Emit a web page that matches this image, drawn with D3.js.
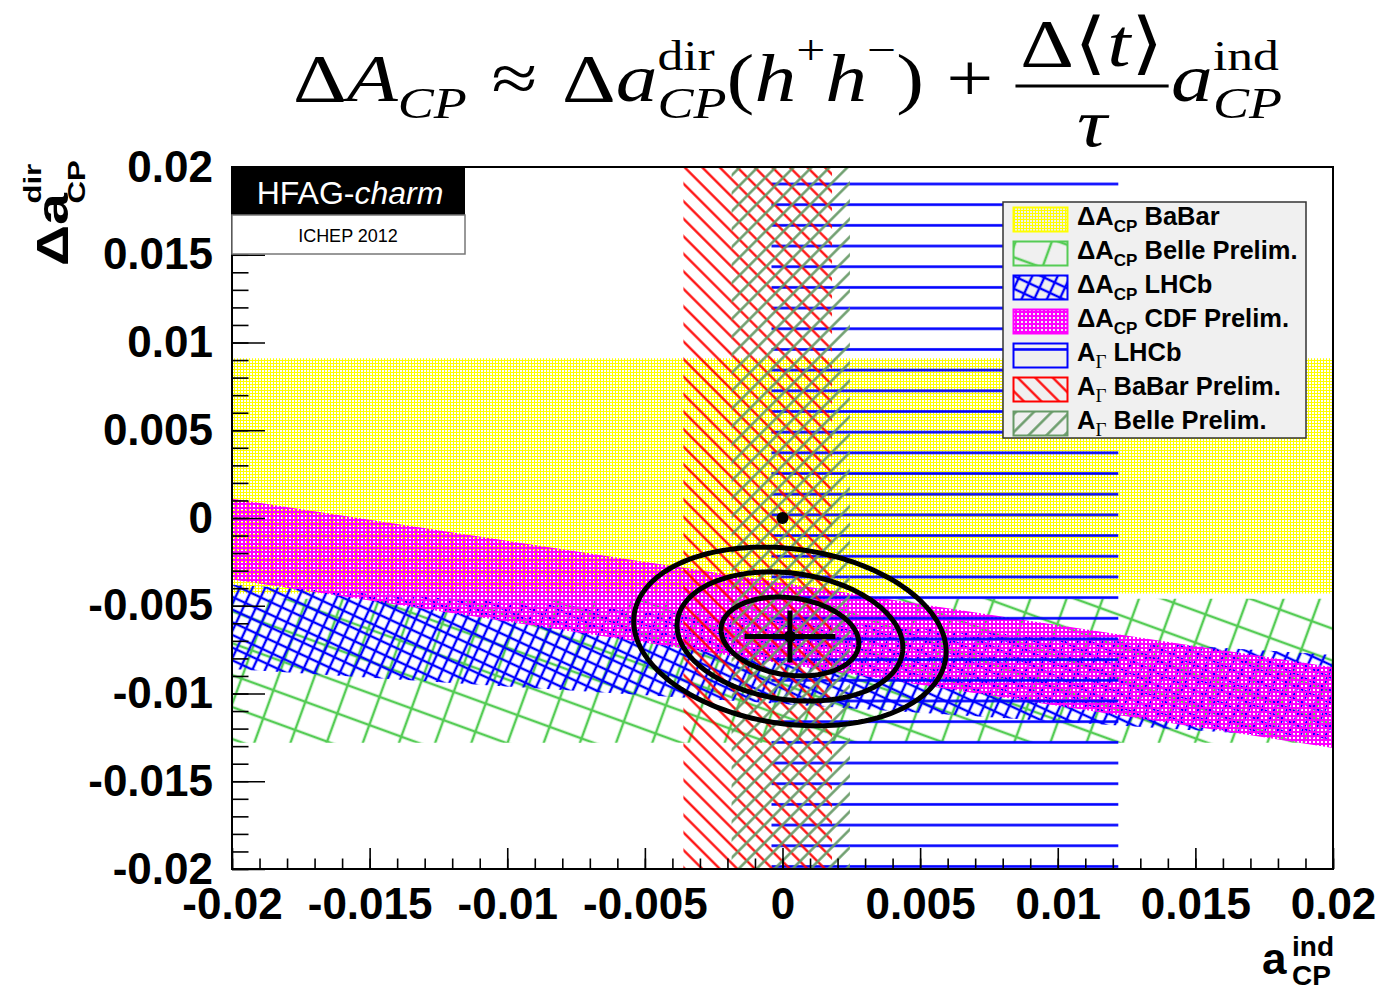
<!DOCTYPE html>
<html>
<head>
<meta charset="utf-8">
<script src="https://cdnjs.cloudflare.com/ajax/libs/d3/7.8.5/d3.min.js"></script>
<style>
  body { margin: 0; background: #fff; }
  svg { display: block; }
  text { font-family: "Liberation Sans", Arial, Helvetica, sans-serif; }
</style>
</head>
<body>
<svg id="chart" width="1392" height="990"></svg>
<script>
// Delta A_CP measurements: value, error and Delta<t>/tau of each experiment
var dacpNames = ["BaBar", "Belle Prelim.", "LHCb", "CDF Prelim."];
var dacpValues = [0.0024, -0.0087, -0.0082, -0.0060];
var dacpErrors = [0.0067, 0.0041, 0.0024, 0.0023];
var dacpTimeRatio = [0.0, 0.0, 0.10, 0.24];

// A_Gamma measurements, shown as a_ind = -A_Gamma
var agammaNames = ["LHCb", "BaBar Prelim.", "Belle Prelim."];
var aindValues = [0.0059, -0.0009, 0.0003];
var aindErrors = [0.0063, 0.0027, 0.00215];

// combined fit
var fitCenter = [0.00027, -0.00675];
var fitSigma = [0.00165, 0.00148];
var fitCorrelation = -0.17;
var contourLevels = [2.30, 6.18, 11.83];
var noCPV = [0, 0];

var xTickValues = [-0.02, -0.015, -0.01, -0.005, 0, 0.005, 0.01, 0.015, 0.02];
var xTickLabels = ["-0.02", "-0.015", "-0.01", "-0.005", "0", "0.005", "0.01", "0.015", "0.02"];
var yTickValues = [-0.02, -0.015, -0.01, -0.005, 0, 0.005, 0.01, 0.015, 0.02];
var yTickLabels = ["-0.02", "-0.015", "-0.01", "-0.005", "0", "0.005", "0.01", "0.015", "0.02"];
var minorTicks = d3.range(-20, 21).map(function(i) { return i / 1000; });

var svg = d3.select("#chart");
var margin = {left: 232, right: 1333, top: 167, bottom: 869};

var x = d3.scaleLinear().domain([-0.02, 0.02]).range([margin.left, margin.right]);
var y = d3.scaleLinear().domain([-0.02, 0.02]).range([margin.bottom, margin.top]);

var defs = svg.append("defs");

defs.append("clipPath").attr("id", "plotclip")
  .append("rect")
  .attr("x", margin.left).attr("y", margin.top)
  .attr("width", margin.right - margin.left).attr("height", margin.bottom - margin.top);

// fine dot fill (ROOT style 3001 look)
function dots(id, color, size, hole) {
  var p = defs.append("pattern").attr("id", id)
    .attr("patternUnits", "userSpaceOnUse")
    .attr("width", size).attr("height", size);
  p.append("path")
    .attr("d", "M0,0h" + size + "v" + size + "h-" + size + "z M1,1v" + hole + "h" + hole + "v-" + hole + "z")
    .attr("fill", color)
    .attr("fill-rule", "evenodd")
    .attr("shape-rendering", "crispEdges");
}

// line hatching, optionally crossed
function hatch(id, color, lw, h, w, angle, cross, offset) {
  var p = defs.append("pattern").attr("id", id)
    .attr("patternUnits", "userSpaceOnUse")
    .attr("width", w).attr("height", h)
    .attr("patternTransform", "translate(0," + (offset || 0) + ") rotate(" + angle + ")");
  p.append("line")
    .attr("x1", 0).attr("x2", w).attr("y1", h / 2).attr("y2", h / 2)
    .attr("stroke", color).attr("stroke-width", lw);
  if (cross) {
    p.append("line")
      .attr("x1", w / 2).attr("x2", w / 2).attr("y1", 0).attr("y2", h)
      .attr("stroke", color).attr("stroke-width", lw);
  }
}

dots("pYellow", "#ffff00", 3, 2);
dots("pMagenta", "#ff00ff", 4, 2);
hatch("pBelleD", "#55cc55", 2.5, 30, 34, 20, true);
hatch("pLHCbD", "#0000ff", 2.4, 11.5, 11.5, 25, true);
hatch("pLHCbG", "#0000ff", 2.6, 20.68, 20.68, 0, false, 184 - 10.34);
hatch("pBaBarG", "#ff0000", 2.2, 12.4, 12.4, 45, false);
hatch("pBelleG", "#669966", 2.4, 12.7, 12.7, -45, false);

var dacpFill = ["url(#pYellow)", "url(#pBelleD)", "url(#pLHCbD)", "url(#pMagenta)"];
var dacpColor = ["#ffff00", "#55cc55", "#0000ff", "#ff00ff"];
var agFill = ["url(#pLHCbG)", "url(#pBaBarG)", "url(#pBelleG)"];
var agColor = ["#0000ff", "#ff0000", "#669966"];

var plot = svg.append("g").attr("clip-path", "url(#plotclip)");

// Delta A_CP bands: Delta a_dir = Delta A_CP - (Delta<t>/tau) a_ind
var bandLine = d3.line().x(function(d) { return x(d[0]); }).y(function(d) { return y(d[1]); });
dacpNames.forEach(function(n, i) {
  var c = dacpValues[i], e = dacpErrors[i], k = dacpTimeRatio[i];
  var pts = [[-0.02, c + e + 0.02 * k], [0.02, c + e - 0.02 * k],
             [0.02, c - e - 0.02 * k], [-0.02, c - e + 0.02 * k]];
  plot.append("path")
    .attr("d", bandLine(pts) + "Z")
    .attr("fill", dacpFill[i]);
});

// A_Gamma bands (vertical)
agammaNames.forEach(function(n, i) {
  plot.append("rect")
    .attr("x", x(aindValues[i] - aindErrors[i]))
    .attr("width", x(aindValues[i] + aindErrors[i]) - x(aindValues[i] - aindErrors[i]))
    .attr("y", margin.top).attr("height", margin.bottom - margin.top)
    .attr("fill", agFill[i]);
});

// fit contours (delta chi2 = 2.30, 6.18, 11.83)
var rho = fitCorrelation;
var angles = d3.range(0, 360, 2).map(function(a) { return a * Math.PI / 180; });
contourLevels.forEach(function(level) {
  var k = Math.sqrt(level);
  var gen = d3.line().curve(d3.curveLinearClosed)
    .x(function(t) { return x(fitCenter[0] + k * fitSigma[0] * Math.cos(t)); })
    .y(function(t) { return y(fitCenter[1] + k * fitSigma[1] * (rho * Math.cos(t) + Math.sqrt(1 - rho * rho) * Math.sin(t))); });
  plot.append("path")
    .attr("d", gen(angles))
    .attr("fill", "none").attr("stroke", "#000").attr("stroke-width", 5);
});

// central value with 1 sigma errors
plot.append("line")
  .attr("x1", x(fitCenter[0] - fitSigma[0])).attr("x2", x(fitCenter[0] + fitSigma[0]))
  .attr("y1", y(fitCenter[1])).attr("y2", y(fitCenter[1]))
  .attr("stroke", "#000").attr("stroke-width", 5);
plot.append("line")
  .attr("x1", x(fitCenter[0])).attr("x2", x(fitCenter[0]))
  .attr("y1", y(fitCenter[1] - fitSigma[1])).attr("y2", y(fitCenter[1] + fitSigma[1]))
  .attr("stroke", "#000").attr("stroke-width", 5);
plot.append("circle")
  .attr("cx", x(fitCenter[0])).attr("cy", y(fitCenter[1])).attr("r", 6).attr("fill", "#000");
plot.append("circle")
  .attr("cx", x(noCPV[0])).attr("cy", y(noCPV[1])).attr("r", 6).attr("fill", "#000");

// axes
function styleAxis(g) {
  g.select(".domain").remove();
  g.selectAll(".tick line").attr("stroke", "#000").attr("stroke-width", 1.6);
  g.selectAll("text").attr("font-size", 44).attr("font-weight", "bold").attr("fill", "#000")
    .style("font-family", "'Liberation Sans', Arial, Helvetica, sans-serif");
}

svg.append("g").attr("transform", "translate(" + margin.left + ",0)")
  .call(d3.axisLeft(y).tickValues(minorTicks).tickFormat("").tickSizeInner(-16.5).tickSizeOuter(0))
  .call(styleAxis);
svg.append("g").attr("transform", "translate(" + margin.left + ",0)")
  .call(d3.axisLeft(y).tickValues(yTickValues).tickFormat(function(d, i) { return yTickLabels[i]; })
    .tickSizeInner(-33).tickSizeOuter(0).tickPadding(19))
  .call(styleAxis);
svg.append("g").attr("transform", "translate(0," + margin.bottom + ")")
  .call(d3.axisBottom(x).tickValues(minorTicks).tickFormat("").tickSizeInner(-10.5).tickSizeOuter(0))
  .call(styleAxis);
svg.append("g").attr("transform", "translate(0," + margin.bottom + ")")
  .call(d3.axisBottom(x).tickValues(xTickValues).tickFormat(function(d, i) { return xTickLabels[i]; })
    .tickSizeInner(-21).tickSizeOuter(0).tickPadding(19))
  .call(styleAxis);

svg.append("rect")
  .attr("x", margin.left).attr("y", margin.top)
  .attr("width", margin.right - margin.left).attr("height", margin.bottom - margin.top)
  .attr("fill", "none").attr("stroke", "#000").attr("stroke-width", 2);

// axis titles
var xt = svg.append("g").attr("font-weight", "bold").attr("fill", "#000");
xt.append("text").attr("x", 1262).attr("y", 974).attr("font-size", 44).text("a");
xt.append("text").attr("x", 1292).attr("y", 956).attr("font-size", 28).text("ind");
xt.append("text").attr("x", 1292).attr("y", 985).attr("font-size", 28).text("CP");

var yt = svg.append("g").attr("font-weight", "bold").attr("fill", "#000")
  .attr("transform", "translate(68,266) rotate(-90) scale(1.3,1)");
yt.append("text").attr("x", 0).attr("y", 0).attr("font-size", 44).text("Δa");
yt.append("text").attr("x", 48).attr("y", -27).attr("font-size", 24).text("dir");
yt.append("text").attr("x", 48).attr("y", 17).attr("font-size", 24).text("CP");

// HFAG logo
svg.append("rect").attr("x", 232).attr("y", 167).attr("width", 233).attr("height", 48).attr("fill", "#000");
svg.append("rect").attr("x", 232).attr("y", 215).attr("width", 233).attr("height", 39)
  .attr("fill", "#fff").attr("stroke", "#777").attr("stroke-width", 1.5);
var logo = svg.append("text").attr("x", 350).attr("y", 204).attr("text-anchor", "middle")
  .attr("font-size", 32).attr("fill", "#fff");
logo.append("tspan").text("HFAG-");
logo.append("tspan").attr("font-style", "italic").text("charm");
svg.append("text").attr("x", 348).attr("y", 242).attr("text-anchor", "middle")
  .attr("font-size", 18).attr("fill", "#000").text("ICHEP 2012");

// legend
var legend = svg.append("g");
legend.append("rect").attr("x", 1003).attr("y", 202).attr("width", 303).attr("height", 236)
  .attr("fill", "#f0f0f0").attr("stroke", "#333").attr("stroke-width", 1.5);
var entries = [];
dacpNames.forEach(function(n, i) { entries.push({kind: "dacp", name: n, fill: dacpFill[i], color: dacpColor[i]}); });
agammaNames.forEach(function(n, i) { entries.push({kind: "ag", name: n, fill: agFill[i], color: agColor[i]}); });
entries.forEach(function(e, i) {
  var cy = 219.5 + i * 34;
  legend.append("rect").attr("x", 1013.5).attr("y", cy - 12).attr("width", 54).attr("height", 24)
    .attr("fill", e.fill).attr("stroke", e.color).attr("stroke-width", 2);
  var t = legend.append("text").attr("x", 1077).attr("y", cy + 5)
    .attr("font-size", 25.5).attr("font-weight", "bold").attr("fill", "#000");
  if (e.kind == "dacp") {
    t.append("tspan").text("ΔA");
    t.append("tspan").attr("font-size", 17).attr("dy", 7).text("CP");
  } else {
    t.append("tspan").text("A");
    t.append("tspan").attr("font-size", 19).attr("font-weight", "normal")
      .style("font-family", "'Liberation Serif', 'Times New Roman', serif").attr("dy", 7).text("Γ");
  }
  t.append("tspan").attr("dy", -7).text(" " + e.name);
});

// title formula, laid out piece by piece then stretched to the reference width
var title = svg.append("g").attr("fill", "#000");
var cx = 0;
function tp(txt, size, italic, by, px, anchor) {
  return title.append("text").attr("x", px === undefined ? cx : px).attr("y", by)
    .attr("font-size", size)
    .attr("font-style", italic ? "italic" : "normal")
    .attr("text-anchor", anchor || "start")
    .style("font-family", "'Liberation Serif', 'Times New Roman', serif").text(txt);
}
function len(t) { return t.node().getComputedTextLength(); }
function put(txt, size, italic, by) { var t = tp(txt, size, italic, by); cx += len(t); return t; }
function stack(sup, sub, supIt, subIt) {
  var a = tp(sup, 42, supIt, 70), b = tp(sub, 44, subIt, 118);
  cx += Math.max(len(a), len(b));
}
var MAIN = 101, FS = 68;
put("Δ", FS, false, MAIN);
put("A", FS, true, MAIN);
put("CP", 44, true, 118);
cx += 20; put("≈", FS, false, MAIN); cx += 20;
put("Δ", FS, false, MAIN);
put("a", FS, true, MAIN);
stack("dir", "CP", false, true);
put("(", FS, false, MAIN);
put("h", FS, true, MAIN);
put("+", 42, false, 64);
put("h", FS, true, MAIN);
put("−", 42, false, 64);
put(")", FS, false, MAIN);
cx += 18; put("+", FS, false, MAIN); cx += 18;
var fx = cx;
cx += 4;
put("Δ", FS, false, 66);
put("⟨", FS, false, 66);
put("t", FS, true, 66);
put("⟩", FS, false, 66);
cx += 4;
title.append("line").attr("x1", fx).attr("x2", cx).attr("y1", 86).attr("y2", 86)
  .attr("stroke", "#000").attr("stroke-width", 3);
tp("τ", FS, true, 146, (fx + cx) / 2, "middle");
cx += 2;
put("a", FS, true, MAIN);
stack("ind", "CP", false, true);
var sx = (1282 - 293) / cx;
title.attr("transform", "translate(293,0) scale(" + sx + ",1)");
</script>
</body>
</html>
